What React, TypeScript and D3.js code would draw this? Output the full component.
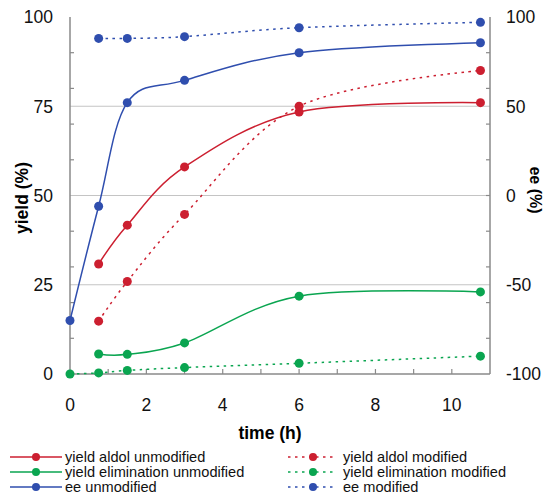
import React from 'react';
import * as d3 from 'd3';

// time points (h)
const timesShort = [0.75, 1.5, 3, 6, 10.75];
const timesLong = [0, 0.75, 1.5, 3, 6, 10.75];

// yield (%) series, left axis
const yieldAldolUnmodified = [30.8, 41.7, 58, 73.4, 76];
const yieldAldolModified = [14.8, 25.9, 44.7, 75, 85];
const yieldElimUnmodified = [5.6, 5.5, 8.7, 21.8, 23];
const yieldElimModified = [0, 0.3, 1, 1.8, 3, 5];

// ee (%) series, right axis
const eeUnmodified = [-70, -6, 52, 64.5, 80, 85.6];
const eeModified = [88, 88, 89, 94, 97];

const xTickLabels = [0, 2, 4, 6, 8, 10];
const yieldTickLabels = [0, 25, 50, 75, 100];
const eeTickLabels = [-100, -50, 0, 50, 100];

const RED = '#cc1f30';
const GREEN = '#0aa550';
const BLUE = '#2f4eae';
const FONT = '"Liberation Sans", Arial, sans-serif';

type Series = {
  name: string;
  color: string;
  dashed: boolean;
  axis: 'yield' | 'ee';
  t: number[];
  v: number[];
};

const series: Series[] = [
  { name: 'yield aldol unmodified', color: RED, dashed: false, axis: 'yield', t: timesShort, v: yieldAldolUnmodified },
  { name: 'yield aldol modified', color: RED, dashed: true, axis: 'yield', t: timesShort, v: yieldAldolModified },
  { name: 'yield elimination unmodified', color: GREEN, dashed: false, axis: 'yield', t: timesShort, v: yieldElimUnmodified },
  { name: 'yield elimination modified', color: GREEN, dashed: true, axis: 'yield', t: timesLong, v: yieldElimModified },
  { name: 'ee unmodified', color: BLUE, dashed: false, axis: 'ee', t: timesLong, v: eeUnmodified },
  { name: 'ee modified', color: BLUE, dashed: true, axis: 'ee', t: timesShort, v: eeModified },
];

export default function App() {
  const width = 545;
  const height = 496;
  const left = 70, right = 490, top = 17, bottom = 374;

  const x = d3.scaleLinear().domain([0, 11]).range([left, right]);
  const yY = d3.scaleLinear().domain([0, 100]).range([bottom, top]);
  const yE = d3.scaleLinear().domain([-100, 100]).range([bottom, top]);

  // spreadsheet-style smoothing (uniform Catmull-Rom)
  const lineFor = (s: Series) =>
    d3
      .line<number>()
      .x((_, i) => x(s.t[i]))
      .y((d) => (s.axis === 'yield' ? yY(d) : yE(d)))
      .curve(d3.curveCatmullRom.alpha(0))(s.v) || '';

  const axisColor = '#8a8a8a';
  const minorYield = d3.range(10, 100, 10).filter((v) => v % 25 !== 0);
  const minorEe = d3.range(-80, 100, 20);
  const minorX = d3.range(1, 11, 1);

  // legend layout: left column = unmodified, right column = modified
  const legendRows = [457, 472, 487];

  return (
    <svg
      width={width}
      height={height}
      style={{ position: 'absolute', left: 0, top: 0, background: '#fff' }}
      fontFamily={FONT}
    >
      {/* gridlines */}
      {[25, 50, 75].map((v) => (
        <line key={v} x1={left} x2={right} y1={yY(v)} y2={yY(v)} stroke="#c4c4c4" strokeWidth={1.2} />
      ))}

      {/* axes */}
      <line x1={left} x2={left} y1={top} y2={bottom} stroke={axisColor} strokeWidth={1.5} />
      <line x1={right} x2={right} y1={top} y2={bottom} stroke={axisColor} strokeWidth={1.5} />
      <line x1={left} x2={right} y1={bottom} y2={bottom} stroke={axisColor} strokeWidth={1.5} />

      {minorYield.map((v) => (
        <line key={'ly' + v} x1={left} x2={left + 4} y1={yY(v)} y2={yY(v)} stroke={axisColor} strokeWidth={1.2} />
      ))}
      {minorEe.map((v) => (
        <line key={'re' + v} x1={right - 4} x2={right} y1={yE(v)} y2={yE(v)} stroke={axisColor} strokeWidth={1.2} />
      ))}
      {minorX.map((v) => (
        <line key={'bx' + v} x1={x(v)} x2={x(v)} y1={bottom - 5} y2={bottom} stroke={axisColor} strokeWidth={1.2} />
      ))}

      {/* tick labels */}
      {yieldTickLabels.map((v) => (
        <text key={'yl' + v} x={53} y={yY(v)} dy="0.36em" textAnchor="end" fontSize={17.5} fill="#111">
          {v}
        </text>
      ))}
      {eeTickLabels.map((v) => (
        <text key={'el' + v} x={506} y={yE(v)} dy="0.36em" textAnchor="start" fontSize={17.5} fill="#111">
          {v}
        </text>
      ))}
      {xTickLabels.map((v) => (
        <text key={'xl' + v} x={x(v)} y={405} dy="0.36em" textAnchor="middle" fontSize={17.5} fill="#111">
          {v}
        </text>
      ))}

      {/* axis titles */}
      <text
        transform={`translate(22,198) rotate(-90)`}
        textAnchor="middle"
        dy="0.36em"
        fontSize={17.5}
        fontWeight="bold"
      >
        yield (%)
      </text>
      <text
        transform={`translate(536,190) rotate(90)`}
        textAnchor="middle"
        dy="0.36em"
        fontSize={16}
        fontWeight="bold"
      >
        ee (%)
      </text>
      <text x={270} y={433} dy="0.36em" textAnchor="middle" fontSize={17.5} fontWeight="bold">
        time (h)
      </text>

      {/* series */}
      {series.map((s) => (
        <g key={s.name}>
          <path
            d={lineFor(s)}
            fill="none"
            stroke={s.color}
            strokeWidth={1.5}
            strokeDasharray={s.dashed ? '2.5,4.5' : undefined}
          />
          {s.v.map((d, i) => (
            <circle
              key={i}
              cx={x(s.t[i])}
              cy={s.axis === 'yield' ? yY(d) : yE(d)}
              r={4.5}
              fill={s.color}
            />
          ))}
        </g>
      ))}

      {/* legend */}
      {series.map((s, i) => {
        const row = legendRows[Math.floor(i / 2)];
        const isRight = i % 2 === 1;
        const x1 = isRight ? 288 : 10;
        const x2 = isRight ? 336 : 62;
        const cx = isRight ? 313 : 36;
        const tx = isRight ? 343 : 65;
        return (
          <g key={'lg' + s.name}>
            <line
              x1={x1}
              x2={x2}
              y1={row}
              y2={row}
              stroke={s.color}
              strokeWidth={1.5}
              strokeDasharray={s.dashed ? '2.5,4.5' : undefined}
            />
            <circle cx={cx} cy={row} r={4} fill={s.color} />
            <text x={tx} y={row} dy="0.36em" fontSize={14.6} fill="#111">
              {s.name}
            </text>
          </g>
        );
      })}
    </svg>
  );
}
